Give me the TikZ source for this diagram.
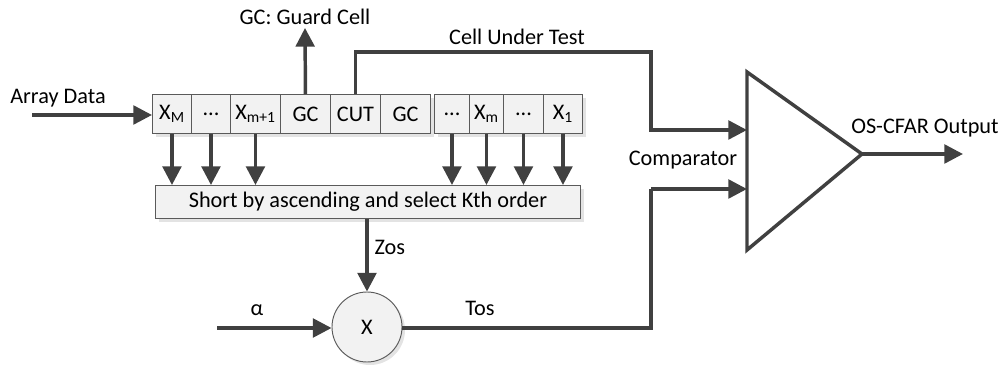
\documentclass[tikz,border=0pt]{standalone}
\usepackage{fontspec}
\setmainfont{Carlito}
\usetikzlibrary{arrows.meta}
\definecolor{lc}{HTML}{404040}
\definecolor{cb}{HTML}{5A5A5A}
\definecolor{cf}{HTML}{F2F2F2}
\definecolor{sh}{HTML}{E3E3E3}
\begin{document}
\begin{tikzpicture}[x=0.75pt,y=-0.75pt,
  font=\fontsize{16.7}{19}\selectfont,
  conn/.style={draw=lc, line width=2.6pt},
  arr/.style={conn, -{Triangle[length=14pt,width=14pt]}},
  cell/.style={draw=cb, fill=cf, line width=0.7pt, minimum height=29.25pt, inner sep=0pt, anchor=north west},
  lbl/.style={inner sep=1pt}]
\useasboundingbox (0,0) rectangle (1004,370);
% shadows
\fill[sh] (156,98) rectangle (434,137);
\fill[sh] (438,98) rectangle (586,137);
\fill[sh] (159,189) rectangle (584,222);
\fill[sh] (370,330) circle (35);
% cells
\node[cell, minimum width=29.25pt] (xM) at (152,94) {X\textsubscript{M}};
\node[cell, minimum width=29.25pt] (d1) at (191,94) {...};
\node[cell, minimum width=37.5pt] (xm1) at (230,94) {X\textsubscript{m+1}};
\node[cell, minimum width=37.5pt] (gc1) at (280,94) {GC};
\node[cell, minimum width=37.5pt] (cut) at (330,94) {CUT};
\node[cell, minimum width=37.5pt] (gc2) at (380,94) {GC};
\node[cell, minimum width=26.25pt] (d2) at (434,94) {...};
\node[cell, minimum width=25.5pt] (xm) at (469,94) {X\textsubscript{m}};
\node[cell, minimum width=30pt] (d3) at (503,94) {...};
\node[cell, minimum width=29.25pt] (x1) at (543,94) {X\textsubscript{1}};
% sort box
\node[cell, minimum width=318.75pt, minimum height=24.75pt] (sort) at (155,185) {Short by ascending and select Kth order};
% multiplier
\node[circle, draw=cb, fill=cf, line width=0.7pt, minimum size=52.5pt, inner sep=0pt] (mult) at (367,327) {X};
% comparator triangle
\coordinate (tl) at (747,72);
\coordinate (bl) at (747,250);
\coordinate (apex) at (862,154);
\draw[draw=lc, line width=2.6pt, line join=miter] (tl) -- (apex) -- (bl) -- cycle;
\coordinate (in1) at (747,130);
\coordinate (in2) at (747,189);
% free ends and corners
\coordinate (ain) at (32,115);
\coordinate (gctop) at (305,28);
\coordinate (cutc) at (651,52);
\coordinate (alin) at (217,328);
\coordinate (tosc) at (651,189);
\coordinate (out) at (963,154);
% connectors
\draw[arr] (ain) -- (ain -| xM.west);
\draw[arr] (gc1.north) -- (gctop);
\draw[arr] (cut.north) |- (cutc) |- (in1);
\foreach \c in {xM,d1,xm1,d2,xm,d3,x1}{
  \draw[arr] (\c.south) -- (\c.south |- sort.north);
}
\draw[arr] (sort.south -| mult.north) -- (mult.north);
\draw[arr] (alin) -- (alin -| mult.west);
\draw[conn] (alin -| mult.east) -| (tosc);
\draw[arr] (tosc) -- (in2);
\draw[arr] (apex) -- (out);
% labels
\node[lbl] (tArr) at (58,98) {Array Data};
\node[lbl] (tGC) at (305,17) {GC: Guard Cell};
\node[lbl] (tCUT) at (517,37) {Cell Under Test};
\node[lbl] (tComp) at (683,160) {Comparator};
\node[lbl] (tOut) at (925,128) {OS-CFAR Output};
\node[lbl, anchor=west] (tZos) at (373,247) {Zos};
\node[lbl] (tAl) at (257,310) {α};
\node[lbl] (tTos) at (480,308) {Tos};
\end{tikzpicture}
\end{document}
